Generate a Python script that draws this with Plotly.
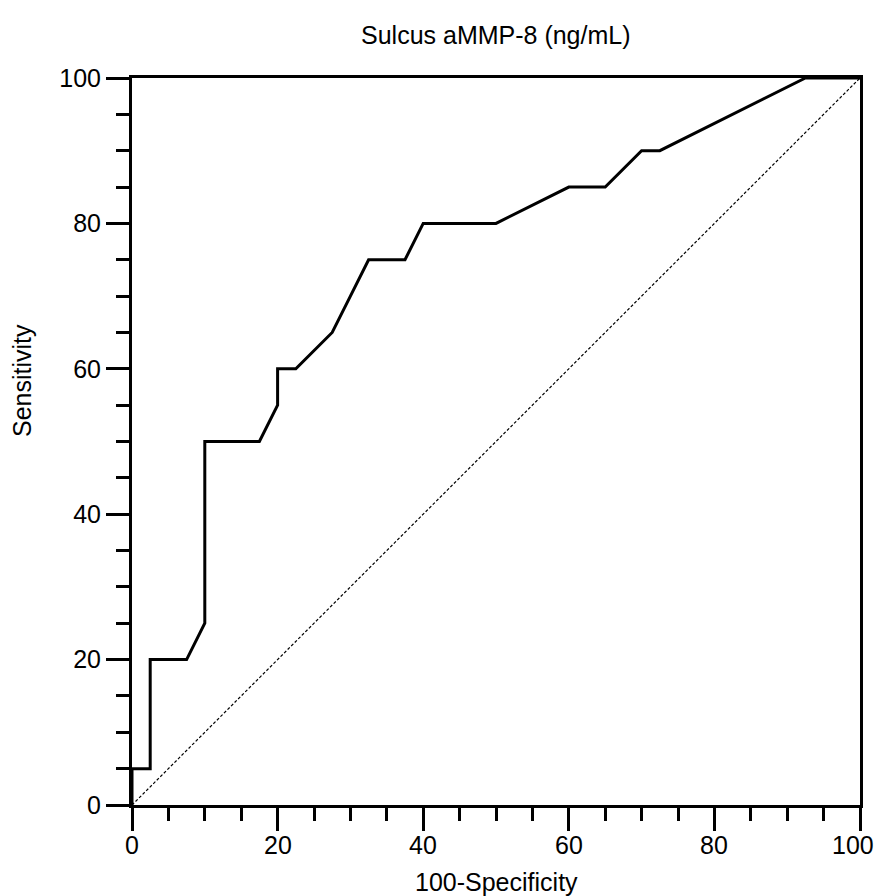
import plotly.graph_objects as go

# ROC curve points (100-Specificity, Sensitivity)
fpr = [0, 0, 2.5, 2.5, 7.5, 10, 10, 17.5, 20, 20, 22.5, 27.5, 30, 32.5, 37.5, 40, 50, 60, 65, 70, 72.5, 92.5, 100]
tpr = [0, 5, 5, 20, 20, 25, 50, 50, 55, 60, 60, 65, 70, 75, 75, 80, 80, 85, 85, 90, 90, 100, 100]
diag_x = [0, 100]
diag_y = [0, 100]
tick_vals = [0, 20, 40, 60, 80, 100]
tick_text = ["0", "20", "40", "60", "80", "100"]

FONT = "Liberation Sans, Arial, sans-serif"
FS = 25

# page body has an 8px margin -> figure offset by (8, 8)
L, T = 132 - 8, 78 - 8
PW, PH = 728, 727
W, H = 868, 888

fig = go.Figure()
fig.add_trace(go.Scatter(x=diag_x, y=diag_y, mode="lines",
                         line=dict(color="black", width=1.2, dash="3px,2px"),
                         showlegend=False, hoverinfo="skip"))
fig.add_trace(go.Scatter(x=fpr, y=tpr, mode="lines",
                         line=dict(color="black", width=3),
                         showlegend=False))

axis_common = dict(
    range=[0, 100], showgrid=False, zeroline=False,
    showline=True, linewidth=3, linecolor="black", mirror=True,
    ticks="outside", ticklen=23, tickwidth=3, tickcolor="black",
    tickvals=tick_vals, ticktext=tick_text,
    tickfont=dict(family=FONT, size=FS, color="black"),
    minor=dict(dtick=5, tick0=0, ticks="outside", ticklen=13, tickwidth=3, tickcolor="black", showgrid=False),
)

# x tick labels as annotations (so the right-most one stays inside the page)
ytick_lab = -40 / PH
x_labels = []
for v, t in zip(tick_vals, tick_text):
    last = (v == tick_vals[-1])
    x_labels.append(dict(text=t, x=v, xref="x", y=ytick_lab, yref="paper",
                         xanchor="right" if last else "center", yanchor="middle",
                         xshift=16 if last else 0, showarrow=False,
                         font=dict(family=FONT, size=FS, color="black")))

fig.update_layout(
    width=W, height=H,
    margin=dict(l=L, r=W - L - PW, t=T, b=H - T - PH),
    plot_bgcolor="white", paper_bgcolor="white",
    xaxis=dict(**axis_common, showticklabels=False),
    yaxis=dict(**axis_common),
    font=dict(family=FONT, size=FS, color="black"),
    annotations=x_labels + [
        dict(text="Sulcus aMMP-8 (ng/mL)", x=0.5, y=(805 - 35) / PH, xref="paper", yref="paper",
             xanchor="center", yanchor="middle", showarrow=False,
             font=dict(family=FONT, size=FS, color="black")),
        dict(text="100-Specificity", x=0.5, y=(805 - 882) / PH, xref="paper", yref="paper",
             xanchor="center", yanchor="middle", showarrow=False,
             font=dict(family=FONT, size=FS, color="black")),
        dict(text="Sensitivity", x=(22 - 132) / PW, y=(805 - 381) / PH, xref="paper", yref="paper",
             xanchor="center", yanchor="middle", showarrow=False, textangle=-90,
             font=dict(family=FONT, size=FS, color="black")),
    ],
)

fig.write_html("out.html", config={"displayModeBar": False})
